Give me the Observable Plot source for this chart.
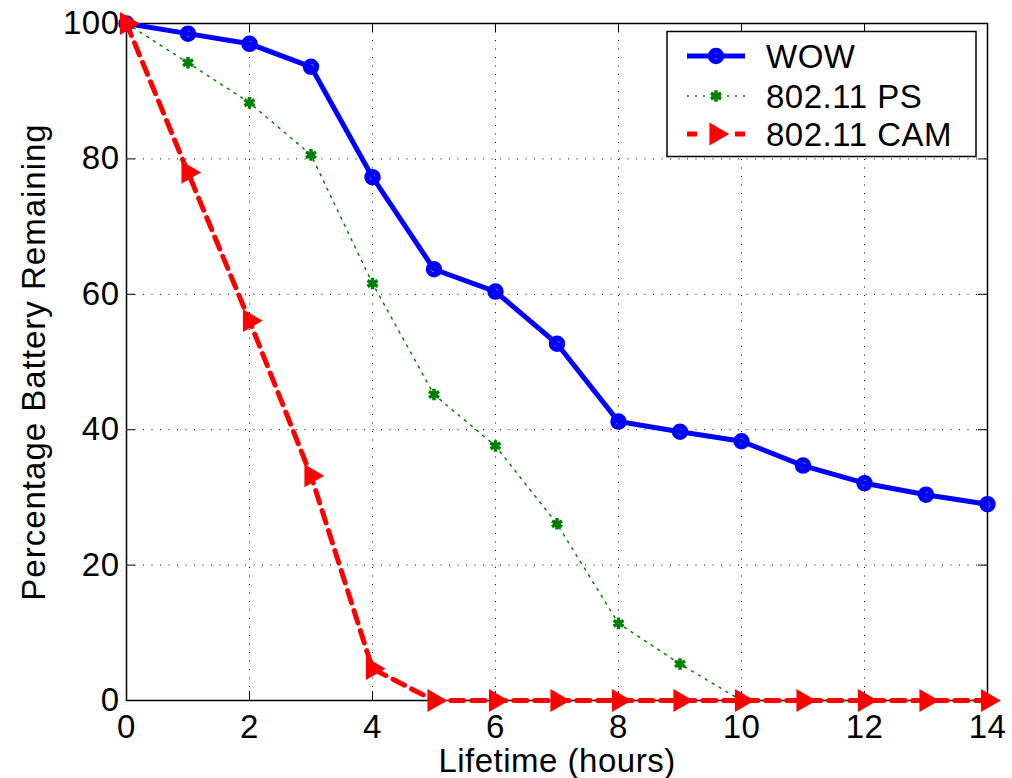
<!DOCTYPE html>
<html><head><meta charset="utf-8">
<script src="https://cdn.jsdelivr.net/npm/d3@7"></script>
<script src="https://cdn.jsdelivr.net/npm/@observablehq/plot@0.6"></script>
<style>
body{margin:0;background:#fff;overflow:hidden;}
#fig{position:relative;width:1012px;height:778px;font-family:"Liberation Sans",Arial,Helvetica,sans-serif;}
#fig svg g[aria-label$="tick label"] text{font-size:33px;letter-spacing:0.5px;}
#fig svg g[aria-label="text"] text{font-size:33px;}
</style></head><body><div id="fig"></div>
<script>
// ---- data ----
const hours = [0,1,2,3,4,5,6,7,8,9,10,11,12,13,14];
const wow = [100,98.5,97.0,93.6,77.3,63.7,60.4,52.7,41.2,39.7,38.3,34.7,32.1,30.4,29.0];
const ps  = [100,94.2,88.3,80.6,61.6,45.2,37.6,26.1,11.4,5.4,0,0,0,0,0];
const cam = [100,78.0,56.1,33.2,4.7,0,0,0,0,0,0,0,0,0,0];
const seriesNames = ["WOW","802.11 PS","802.11 CAM"];
const xTicks = [0,2,4,6,8,10,12,14];
const yTicks = [0,20,40,60,80,100];
const xLabel = "Lifetime (hours)";
const yLabel = "Percentage Battery Remaining";

const rows = vals => hours.map((h,i)=>({h, v: vals[i]}));
const W = rows(wow), P = rows(ps), C = rows(cam);

const BLUE = "#0000ff", GREEN = "#008000", RED = "#ff0000";
const font = '"Liberation Sans",Arial,Helvetica,sans-serif';

const chart = Plot.plot({
  width:1012, height:778,
  marginLeft:126, marginRight:25, marginTop:23, marginBottom:78,
  style:{fontFamily:font, fontSize:"33px", color:"#000", background:"#fff", overflow:"visible"},
  x:{domain:[0,14]},
  y:{domain:[0,100]},
  marks:[
    // dotted grid
    Plot.ruleX(xTicks, {stroke:"#000", strokeWidth:1, strokeDasharray:"1,7.5"}),
    Plot.ruleY(yTicks, {stroke:"#000", strokeWidth:1, strokeDasharray:"1,7.5"}),
    // inward ticks (MATLAB style)
    Plot.ruleX(xTicks, {stroke:"#000", strokeWidth:1, insetTop:668}),
    Plot.ruleX(xTicks, {stroke:"#000", strokeWidth:1, insetBottom:668}),
    Plot.ruleY(yTicks, {stroke:"#000", strokeWidth:1, insetRight:852}),
    Plot.ruleY(yTicks, {stroke:"#000", strokeWidth:1, insetLeft:852}),
    Plot.frame({stroke:"#000", strokeWidth:1.5}),
    Plot.axisX({ticks:xTicks, tickSize:0, tickPadding:14, label:null, fontSize:33}),
    Plot.axisY({ticks:yTicks, tickSize:0, tickPadding:7, label:null, fontSize:33}),
    Plot.text([xLabel], {text:d=>d, frameAnchor:"bottom", textAnchor:"middle", lineAnchor:"middle", dy:61, fontSize:33, fill:"#000", fontVariant:"normal"}),
    Plot.text([yLabel], {text:d=>d, frameAnchor:"left", textAnchor:"middle", lineAnchor:"middle", dx:-92, rotate:-90, fontSize:33, fill:"#000"}),
    // WOW
    Plot.line(W, {x:"h", y:"v", stroke:BLUE, strokeWidth:5}),
    Plot.dot(W, {x:"h", y:"v", r:5.5, stroke:BLUE, strokeWidth:5.5, fill:"none"}),
    // 802.11 PS
    Plot.line(P, {x:"h", y:"v", stroke:GREEN, strokeWidth:1.5, strokeDasharray:"2,6"}),
    Plot.dot(P, {x:"h", y:"v", symbol:"asterisk", r:5.5, stroke:GREEN, strokeWidth:3.5}),
    // 802.11 CAM
    Plot.line(C, {x:"h", y:"v", stroke:RED, strokeWidth:5, strokeDasharray:"13,8"}),
    Plot.dot(C, {x:"h", y:"v", symbol:"triangle", rotate:90, r:7.5, fill:RED, stroke:RED, strokeWidth:1.5})
  ]
});
const fig = document.getElementById("fig");
fig.appendChild(chart);

// letter spacing for the axis titles
const titles = d3.select(chart).selectAll('g[aria-label="text"] text');
titles.each(function(){
  const t = d3.select(this);
  t.style("letter-spacing", t.text() === yLabel ? "1px" : "0.5px");
});

// ---- legend ----
const lg = d3.create("svg").attr("width",311).attr("height",128)
  .style("position","absolute").style("left","666px").style("top","30px");
lg.append("rect").attr("x",1).attr("y",1.5).attr("width",309).attr("height",125)
  .attr("fill","#fff").attr("stroke","#000").attr("stroke-width",1.5);
const rowY = [26, 66, 104];
const styles = [
  {stroke:BLUE, sw:5, dash:null},
  {stroke:GREEN, sw:1.5, dash:"2,6"},
  {stroke:RED, sw:5, dash:"10,38"}
];
seriesNames.forEach((name,i)=>{
  const y = rowY[i], s = styles[i];
  const ln = lg.append("line").attr("x1",21).attr("x2",79).attr("y1",y).attr("y2",y)
    .attr("stroke",s.stroke).attr("stroke-width",s.sw);
  if (s.dash) ln.attr("stroke-dasharray", s.dash);
  if (i===0) {
    lg.append("circle").attr("cx",50).attr("cy",y).attr("r",5.5).attr("fill","none")
      .attr("stroke",BLUE).attr("stroke-width",5.5);
  } else if (i===1) {
    lg.append("path").attr("transform",`translate(50,${y})`)
      .attr("d", d3.symbol(d3.symbolAsterisk, 5.5*5.5*Math.PI)())
      .attr("fill","none").attr("stroke",GREEN).attr("stroke-width",3.5);
  } else {
    lg.append("path").attr("transform",`translate(50,${y}) rotate(90)`)
      .attr("d", d3.symbol(d3.symbolTriangle, 7.5*7.5*Math.PI)())
      .attr("fill",RED).attr("stroke",RED).attr("stroke-width",1.5);
  }
  lg.append("text").attr("x",100).attr("y",y).attr("dy","0.36em")
    .attr("font-family",font).attr("font-size",33).attr("letter-spacing","0.5px")
    .attr("fill","#000").text(name);
});
fig.appendChild(lg.node());
</script>
</body></html>
